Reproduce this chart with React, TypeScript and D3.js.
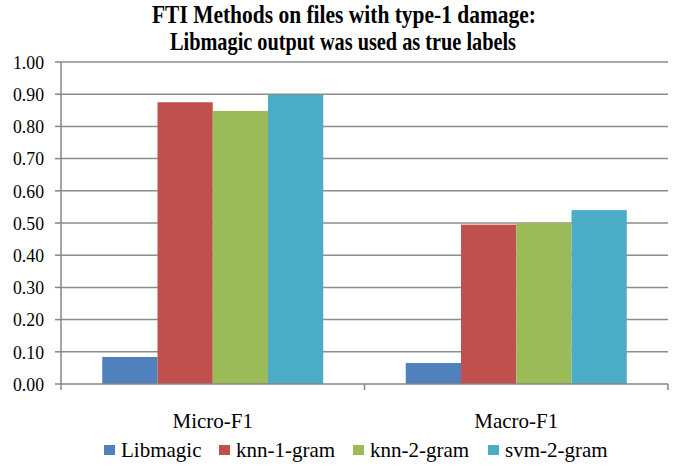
import React from "react";
import * as d3 from "d3";

const categories = ["Micro-F1", "Macro-F1"];
const seriesNames = ["Libmagic", "knn-1-gram", "knn-2-gram", "svm-2-gram"];
const libmagic = [0.084, 0.065];
const knn1 = [0.875, 0.495];
const knn2 = [0.848, 0.5];
const svm2 = [0.898, 0.54];
const yTicks = [0, 0.1, 0.2, 0.3, 0.4, 0.5, 0.6, 0.7, 0.8, 0.9, 1.0];
const colors = ["#4F81BD", "#C0504D", "#9BBB59", "#4BACC6"];
const titleLines = [
  "FTI Methods on files with type-1 damage:",
  "Libmagic output was used as true labels",
];

const W = 687;
const H = 468;
const left = 61;
const right = 668;
const top = 62;
const bottom = 384;
const FONT = "Liberation Serif, Tinos, DejaVu Serif, serif";

export default function App() {
  const values = [libmagic, knn1, knn2, svm2];
  const y = d3.scaleLinear().domain([0, 1]).range([bottom, top]);
  const x0 = d3
    .scaleBand<string>()
    .domain(categories)
    .range([left, right])
    .paddingInner(0.2718)
    .paddingOuter(0.1359);
  const x1 = d3
    .scaleBand<string>()
    .domain(seriesNames)
    .range([0, x0.bandwidth()])
    .padding(0);

  const legendX = [104, 219, 353, 488];
  const ts = { fontFamily: FONT };

  return (
    <svg
      width={W}
      height={H}
      style={{ position: "absolute", left: 0, top: 0, background: "#fff", fontFamily: FONT }}
    >
      <rect width={W} height={H} fill="#fff" />
      {/* title */}
      <text
        x={344}
        y={23}
        textAnchor="middle"
        fontSize={25}
        fontWeight="bold"
        textLength={384}
        lengthAdjust="spacingAndGlyphs"
        style={ts}
      >
        {titleLines[0]}
      </text>
      <text
        x={343}
        y={50}
        textAnchor="middle"
        fontSize={25}
        fontWeight="bold"
        textLength={346}
        lengthAdjust="spacingAndGlyphs"
        style={ts}
      >
        {titleLines[1]}
      </text>

      {/* gridlines */}
      {yTicks.slice(1).map((t) => (
        <line
          key={"g" + t}
          x1={left}
          x2={right}
          y1={y(t)}
          y2={y(t)}
          stroke="#8c8c8c"
          strokeWidth={1.5}
        />
      ))}
      {/* y tick marks and labels */}
      {yTicks.map((t) => (
        <g key={"t" + t}>
          <line x1={left - 6} x2={left} y1={y(t)} y2={y(t)} stroke="#868686" strokeWidth={1.5} />
          <text
            x={44}
            y={y(t)}
            dy="0.35em"
            textAnchor="end"
            fontSize={19.5}
            textLength={31}
            lengthAdjust="spacingAndGlyphs"
            fill="#000"
            style={ts}
          >
            {t.toFixed(2)}
          </text>
        </g>
      ))}

      {/* bars */}
      {categories.map((c, ci) => (
        <g key={c} transform={`translate(${x0(c)},0)`}>
          {seriesNames.map((s, si) => (
            <rect
              key={s}
              x={x1(s)}
              y={y(values[si][ci])}
              width={x1.bandwidth()}
              height={y(0) - y(values[si][ci])}
              fill={colors[si]}
            />
          ))}
        </g>
      ))}

      {/* axes */}
      <line x1={left} x2={left} y1={top} y2={bottom} stroke="#868686" strokeWidth={1.5} />
      <line x1={left} x2={right} y1={bottom} y2={bottom} stroke="#868686" strokeWidth={1.5} />
      {[left, (left + right) / 2, right].map((px, i) => (
        <line key={"xt" + i} x1={px} x2={px} y1={bottom} y2={bottom + 6} stroke="#868686" strokeWidth={1.5} />
      ))}

      {/* category labels */}
      {categories.map((c) => (
        <text
          key={"cl" + c}
          x={(x0(c) as number) + x0.bandwidth() / 2}
          y={428}
          textAnchor="middle"
          fontSize={21}
          style={ts}
        >
          {c}
        </text>
      ))}

      {/* legend */}
      {seriesNames.map((s, i) => (
        <g key={"lg" + s}>
          <rect x={legendX[i]} y={445} width={11} height={10} fill={colors[i]} />
          <text x={legendX[i] + 17} y={457} fontSize={21} style={ts}>
            {s}
          </text>
        </g>
      ))}
    </svg>
  );
}
